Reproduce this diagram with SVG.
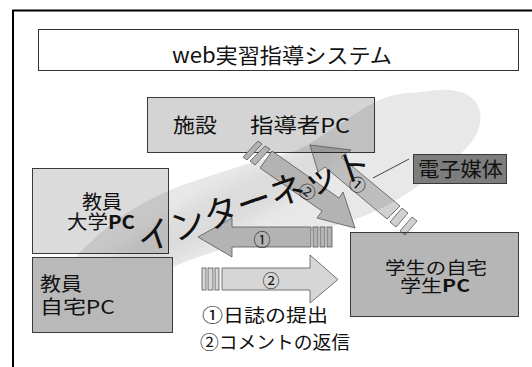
<svg xmlns="http://www.w3.org/2000/svg" width="532" height="367" viewBox="0 0 532 367">
<defs>
<style>
text{font-family:"Noto Sans CJK JP","Noto Sans",sans-serif;fill:#111}
.box{stroke:#3a3a3a;stroke-width:1}
.arrD{fill:#b3b3b3;stroke:#555;stroke-width:0.8}
.arrL{fill:#d6d6d6;stroke:#555;stroke-width:0.8}
.arrT{fill:#000;fill-opacity:0.18;stroke:#555;stroke-width:0.8}
.lbl{font-size:17px;text-anchor:middle}
</style>
<filter id="blur" x="-30%" y="-80%" width="160%" height="260%"><feGaussianBlur stdDeviation="7"/></filter>
</defs>
<rect width="532" height="367" fill="#fff"/>
<rect x="13" y="10.5" width="540" height="380" fill="none" stroke="#000" stroke-width="2"/>

<g id="title">
<rect x="38.5" y="29.5" width="480" height="41" fill="#fff" stroke="#333"/>
<text x="172" y="63" font-size="21" textLength="220" lengthAdjust="spacingAndGlyphs">web実習指導システム</text>
</g>

<g id="node-shido">
<rect class="box" x="147.5" y="97.5" width="227" height="55" fill="#d4d4d4"/>
<text x="173" y="133" font-size="20" textLength="44" lengthAdjust="spacingAndGlyphs" fill="#222">施設</text>
<text x="250" y="133" font-size="20" textLength="100" lengthAdjust="spacingAndGlyphs">指導者PC</text>
</g>

<g id="node-daigaku">
<rect class="box" x="32.5" y="168.5" width="136" height="85" fill="#dbdbdb"/>
<text x="82" y="208.5" font-size="19" textLength="40" lengthAdjust="spacingAndGlyphs">教員</text>
<text x="67" y="228.5" font-size="19" textLength="68" lengthAdjust="spacingAndGlyphs">大学<tspan font-weight="bold">PC</tspan></text>
</g>

<g id="cloud">
<path d="M66,276 Q70,262 85,247.5 Q100,233 112.5,223 Q125,213 146.5,201.5 Q168,190 190,182.5 Q212,175 241,166 Q270,157 283.5,154.5 Q297,152 316,139.5 Q335,127 354,114.5 Q373,102 384,98 Q395,94 407.5,93 Q420,92 432.5,90.5 Q445,89 456.5,91 Q468,93 474.5,100.5 Q481,108 480.5,119 Q480,130 473,140 Q466,150 453,160 Q440,170 425,181 Q410,192 397.5,199.5 Q385,207 369,214 Q353,221 331.5,226.5 Q310,232 280,236.5 Q250,241 225,248.5 Q200,256 185,262 Q170,268 145,277.5 Q120,287 102.5,290.5 Q85,294 73.5,292 Q62,290 66,276 Z" fill="#000" fill-opacity="0.09"/>
<ellipse cx="215" cy="215" rx="140" ry="22" transform="rotate(-28 215 215)" fill="#000" fill-opacity="0.05" filter="url(#blur)"/>
</g>

<g id="node-jitaku">
<rect class="box" x="32.5" y="257.5" width="140" height="75" fill="#b9b9b9"/>
<text x="40" y="290.5" font-size="19" textLength="42" lengthAdjust="spacingAndGlyphs" fill="#444">教員</text>
<text x="40" y="313.5" font-size="19" textLength="75" lengthAdjust="spacingAndGlyphs" fill="#444">自宅PC</text>
</g>

<g id="node-gakusei">
<rect class="box" x="350.5" y="232.5" width="168" height="84" fill="#b6b6b6"/>
<text x="385" y="273.5" font-size="17.5" textLength="102" lengthAdjust="spacingAndGlyphs">学生の自宅</text>
<text x="400" y="291.5" font-size="17.5" textLength="70" lengthAdjust="spacingAndGlyphs">学生<tspan font-weight="bold">PC</tspan></text>
</g>

<g id="node-media">
<rect class="box" x="413.5" y="154.5" width="93" height="29" fill="#7d7d7d"/>
<text x="418" y="176.5" font-size="20" textLength="85" lengthAdjust="spacingAndGlyphs">電子媒体</text>
</g>

<g id="connectors">
<line x1="373" y1="178" x2="409" y2="159" stroke="#444" stroke-width="1"/>
<polygon class="arrD" points="198,237 232,218 232,227 311,227 311,247 232,247 232,257"/>
<rect class="arrD" x="313" y="227" width="5" height="20"/>
<rect class="arrD" x="320" y="227" width="5" height="20"/>
<rect class="arrD" x="327" y="227" width="5" height="20"/>
<text class="lbl" x="262" y="246">①</text>
<rect class="arrL" x="202" y="268" width="4" height="22"/>
<rect class="arrL" x="208" y="268" width="5" height="22"/>
<rect class="arrL" x="215" y="268" width="4" height="22"/>
<polygon class="arrL" points="222,268 310,268 310,255 338,279.5 310,303 310,290 222,290"/>
<text class="lbl" x="271" y="287">②</text>
<polygon class="arrD" points="243,157 258,141 262,144 247,160"/>
<polygon class="arrD" points="250,161 265,146 270,149 255,165"/>
<polygon class="arrD" points="272,151 339,198 343,192 355,228 317,218 322,211 260,168"/>
<text class="lbl" transform="translate(307,192) rotate(37)" x="0" y="6">②</text>
<polygon class="arrT" points="310,145 351,150 341,157 400,206 387,219 325,167 318,172"/>
<polygon class="arrT" points="390,222 402,208 408,213 396,227"/>
<polygon class="arrT" points="400,231 412,217 417,221 405,235"/>
<text class="lbl" transform="translate(357,185) rotate(40)" x="0" y="6">①</text>
</g>

<g id="internet">
<text transform="translate(155,235) rotate(-19)" x="-18" y="13" font-size="35" letter-spacing="0" fill="#000">インターネット</text>
</g>

<g id="legend">
<text x="202" y="322" font-size="18.5" textLength="126" lengthAdjust="spacingAndGlyphs">①日誌の提出</text>
<text x="200" y="349" font-size="18" textLength="150" lengthAdjust="spacingAndGlyphs">②コメントの返信</text>
</g>
</svg>
